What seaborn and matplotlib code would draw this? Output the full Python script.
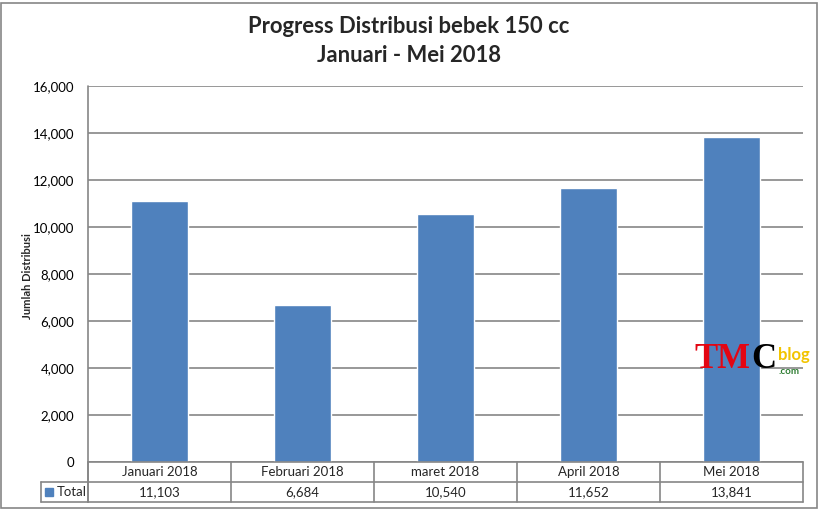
import matplotlib
matplotlib.use("Agg")
import matplotlib.pyplot as plt
import matplotlib.transforms as mtransforms
from matplotlib.patches import Rectangle
from matplotlib.lines import Line2D
import seaborn as sns
import pandas as pd

months = ["Januari 2018", "Februari 2018", "maret 2018", "April 2018", "Mei 2018"]
totals = [11103, 6684, 10540, 11652, 13841]
series_name = "Total"
title_text = "Progress Distribusi bebek 150 cc\nJanuari - Mei 2018"
ylabel_text = "Jumlah Distribusi"
yticks = list(range(0, 16001, 2000))

sns.set_theme(style="white")
plt.rcParams['font.family'] = ['Lato', 'DejaVu Sans']

BAR = "#4F81BD"
GRID = "#868686"
W, H = 820, 513
fig = plt.figure(figsize=(W / 100, H / 100), dpi=100)

def fx(px):
    return px / W

def fy(py):
    return 1 - py / H

left, right, top, bottom = 88, 803, 86, 462
ax = fig.add_axes([fx(left), fy(bottom), fx(right - left), (bottom - top) / H])

df = pd.DataFrame({"month": months, "total": totals})
sns.barplot(data=df, x="month", y="total", color=BAR, saturation=1, width=0.4, ax=ax, zorder=3)

ax.set_xlim(-0.5, len(months) - 0.5)
ax.set_ylim(0, 16000)
ax.set_yticks(yticks)
ax.set_yticklabels([f"{v:,}" for v in yticks], fontsize=9.5, color="black")
ax.tick_params(axis="y", length=0, pad=10)
ax.tick_params(axis="x", length=0, labelbottom=False)
ax.set_xlabel("")
ax.set_ylabel("")
for s in ["top", "right", "bottom", "left"]:
    ax.spines[s].set_visible(False)
ax.yaxis.grid(True, color=GRID, linewidth=1.2, zorder=0)
ax.set_axisbelow(True)

# Title and y label
fig.text(fx(409), fy(27), title_text.split("\n")[0], ha="center", va="center",
         fontsize=15.8, fontweight="bold")
fig.text(fx(409), fy(56), title_text.split("\n")[1], ha="center", va="center",
         fontsize=15.8, fontweight="bold")
fig.text(fx(28), fy(276), ylabel_text, rotation=90, ha="center", va="center",
         fontsize=8, fontweight="bold")

# Data table below the plot
bt = mtransforms.blended_transform_factory(ax.transData, fig.transFigure)
row1, row2, row3 = 462, 482, 502
lw = 1.2
fig.add_artist(Line2D([fx(left), fx(left)], [fy(top), fy(row3)], color=GRID, lw=lw))
for yy in (row1, row2, row3):
    fig.add_artist(Line2D([-0.5, len(months) - 0.5], [fy(yy), fy(yy)], color=GRID, lw=lw,
                          transform=bt))
for k in range(len(months) + 1):
    xb = k - 0.5
    fig.add_artist(Line2D([xb, xb], [fy(row1), fy(row3)], color=GRID, lw=lw, transform=bt))
fig.add_artist(Line2D([fx(41), fx(left)], [fy(row2), fy(row2)], color=GRID, lw=lw))
fig.add_artist(Line2D([fx(41), fx(left)], [fy(row3), fy(row3)], color=GRID, lw=lw))
fig.add_artist(Line2D([fx(41), fx(41)], [fy(row2), fy(row3)], color=GRID, lw=lw))
fig.add_artist(Rectangle((fx(45), fy(496)), fx(8), 8 / H, color=BAR))
fig.text(fx(57), fy(492), series_name, ha="left", va="center", fontsize=9.5)

for i, (m, v) in enumerate(zip(months, totals)):
    fig.text(0, fy(472), m, ha="center", va="center", fontsize=9.5, transform=bt).set_x(i)
    fig.text(0, fy(492), f"{v:,}", ha="center", va="center", fontsize=9.5, transform=bt).set_x(i)

# outer chart border
fig.add_artist(Rectangle((fx(1.5), fy(508)), fx(816), (508 - 2.5) / H, fill=False,
                         edgecolor=GRID, lw=1.2))

# watermark (pieces placed one after another)
renderer = fig.canvas.get_renderer()
t1 = fig.text(fx(694), fy(360), "TM", color="#E30613", fontsize=25, fontweight="bold",
              ha="left", va="center", family="Liberation Serif")
e1 = t1.get_window_extent(renderer)
t2 = fig.text(e1.x1 / W + fx(1), fy(360), "C", color="black", fontsize=25, fontweight="bold",
              ha="left", va="center", family="Liberation Serif")
e2 = t2.get_window_extent(renderer)
fig.text(e2.x1 / W + fx(2), fy(355), "blog", color="#F2C400", fontsize=12, fontweight="bold",
         ha="left", va="center")
fig.text(e2.x1 / W + fx(2), fy(371), ".com", color="#2E7D32", fontsize=7, fontweight="bold",
         ha="left", va="center")

fig.savefig("out.png", dpi=100, facecolor="white")
